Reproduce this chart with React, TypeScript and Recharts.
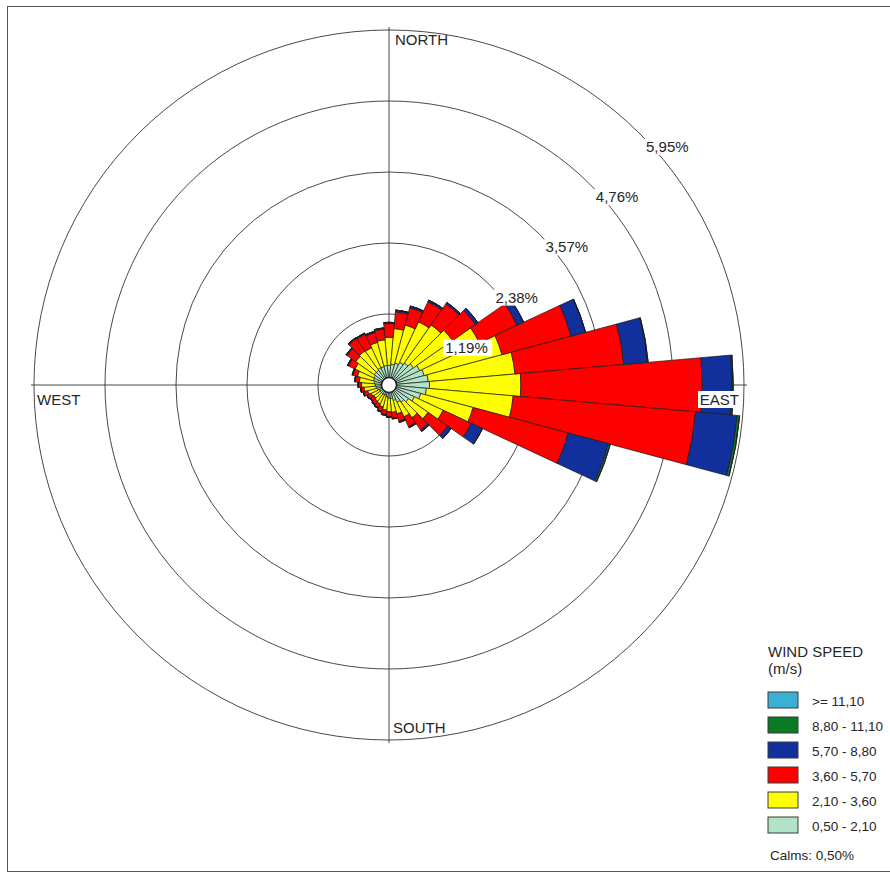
import React from 'react';
import {
  RadialBarChart,
  RadialBar,
  PolarAngleAxis,
  PolarRadiusAxis,
  PolarGrid,
  Legend,
} from 'recharts';

// Compass directions (degrees, clockwise from north)
const directions = [
  0, 10, 20, 30, 40, 50, 60, 70, 80, 90, 100, 110, 120, 130, 140, 150, 160, 170,
  180, 190, 200, 210, 220, 230, 240, 250, 260, 270, 280, 290, 300, 310, 320, 330, 340, 350,
];

// Frequency (%) per speed class, per direction
const speed050_210 = [
  0.33, 0.35, 0.38, 0.42, 0.45, 0.5, 0.57, 0.61, 0.66, 0.68, 0.63, 0.55, 0.47, 0.4, 0.35, 0.32, 0.27, 0.23,
  0.22, 0.2, 0.18, 0.18, 0.18, 0.18, 0.18, 0.2, 0.22, 0.23, 0.25, 0.27, 0.28, 0.3, 0.3, 0.32, 0.32, 0.33,
];
const speed210_360 = [
  0.47, 0.6, 0.66, 0.75, 0.78, 0.8, 1.1, 1.35, 1.46, 1.53, 1.46, 0.91, 0.53, 0.4, 0.32, 0.27, 0.23, 0.23,
  0.23, 0.22, 0.2, 0.17, 0.15, 0.13, 0.15, 0.17, 0.2, 0.23, 0.25, 0.28, 0.35, 0.38, 0.4, 0.37, 0.42, 0.43,
];
const speed360_570 = [
  0.23, 0.28, 0.3, 0.37, 0.43, 0.47, 0.7, 1.2, 1.83, 3.04, 3.07, 1.65, 0.52, 0.4, 0.25, 0.18, 0.13, 0.1,
  0.08, 0.08, 0.08, 0.07, 0.07, 0.07, 0.07, 0.07, 0.05, 0.05, 0.07, 0.08, 0.12, 0.18, 0.25, 0.25, 0.17, 0.18,
];
const speed570_880 = [
  0.02, 0.03, 0.03, 0.03, 0.03, 0.05, 0.12, 0.25, 0.4, 0.5, 0.7, 0.7, 0.2, 0.07, 0.03, 0.02, 0.02, 0.01,
  0.01, 0.01, 0.01, 0.01, 0.01, 0.01, 0.01, 0.01, 0.01, 0.01, 0.01, 0.01, 0.02, 0.02, 0.02, 0.02, 0.02, 0.02,
];
const speed880_1110 = [
  0, 0, 0, 0, 0, 0, 0, 0, 0.01, 0.02, 0.04, 0.03, 0.01, 0, 0, 0, 0, 0,
  0, 0, 0, 0, 0, 0, 0, 0, 0, 0, 0, 0, 0, 0, 0, 0, 0, 0,
];
const speedOver1110 = [
  0, 0, 0, 0, 0, 0, 0, 0, 0, 0, 0, 0, 0, 0, 0, 0, 0, 0,
  0, 0, 0, 0, 0, 0, 0, 0, 0, 0, 0, 0, 0, 0, 0, 0, 0, 0,
];

// Ring ticks and labels
const ringTicks = [1.19, 2.38, 3.57, 4.76, 5.95];
const ringLabels = ['1,19%', '2,38%', '3,57%', '4,76%', '5,95%'];
const compassDirs = [0, 90, 180, 270];
const compassLabels = ['NORTH', 'EAST', 'SOUTH', 'WEST'];

// Speed classes (stack order: inner to outer)
const classKeys = ['c1', 'c2', 'c3', 'c4', 'c5', 'c6'];
const classLabels = ['0,50 - 2,10', '2,10 - 3,60', '3,60 - 5,70', '5,70 - 8,80', '8,80 - 11,10', '>= 11,10'];
const classColors = ['#b3e3c6', '#ffff00', '#ff0000', '#12309c', '#0b7a24', '#3cb0d4'];
const legendTitle = ['WIND SPEED', '(m/s)'];
const calmsLabel = 'Calms: 0,50%';

const seriesValues = [speed050_210, speed210_360, speed360_570, speed570_880, speed880_1110, speedOver1110];

const data = directions.map((d, i) => {
  const row: any = { dir: d };
  classKeys.forEach((k, j) => {
    row[k] = seriesValues[j][i];
  });
  return row;
});

const W = 890;
const H = 877;
const CX = 389;
const CY = 385;
const R = 358;
const HOLE = 7.5;
const FONT = '"Liberation Sans", Arial, sans-serif';
const TXT = '#262626';

const RingTick = (props: any) => {
  const { x, y, payload } = props;
  const idx = ringTicks.indexOf(payload.value);
  const label = idx >= 0 ? ringLabels[idx] : String(payload.value);
  return (
    <g>
      <rect x={x + 4} y={y + 5} width={49} height={16} fill="#ffffff" />
      <text x={x + 6} y={y + 18} fill={TXT} fontSize={15} fontFamily={FONT} textAnchor="start">
        {label}
      </text>
    </g>
  );
};

const CompassTick = (props: any) => {
  const v = props.payload ? props.payload.value : null;
  const idx = compassDirs.indexOf(v);
  if (idx < 0) return <g />;
  const label = compassLabels[idx];
  const common = { fill: TXT, fontSize: 15, fontFamily: FONT };
  if (v === 0) {
    return (
      <text x={CX + 6} y={CY - R + 18} textAnchor="start" {...common}>
        {label}
      </text>
    );
  }
  if (v === 90) {
    return (
      <g>
        <rect x={CX + R - 49} y={CY + 6} width={43} height={17} fill="#ffffff" />
        <text x={CX + R - 8} y={CY + 20} textAnchor="end" {...common}>
          {label}
        </text>
      </g>
    );
  }
  if (v === 180) {
    return (
      <text x={CX + 4} y={CY + R - 10} textAnchor="start" {...common}>
        {label}
      </text>
    );
  }
  return (
    <text x={CX - R + 6} y={CY + 20} textAnchor="start" {...common}>
      {label}
    </text>
  );
};

const LegendContent = () => {
  const order = [5, 4, 3, 2, 1, 0];
  return (
    <svg width={130} height={240} style={{ display: 'block' }}>
      <text x={8} y={27} fill={TXT} fontSize={15} fontFamily={FONT}>
        {legendTitle[0]}
      </text>
      <text x={8} y={44} fill={TXT} fontSize={15} fontFamily={FONT}>
        {legendTitle[1]}
      </text>
      {order.map((ci, row) => (
        <g key={ci}>
          <rect
            x={8}
            y={62 + row * 25}
            width={30}
            height={16}
            fill={classColors[ci]}
            stroke="#3a3a3a"
            strokeWidth={1}
          />
          <text x={52} y={76 + row * 25} fill={TXT} fontSize={13.5} fontFamily={FONT}>
            {classLabels[ci]}
          </text>
        </g>
      ))}
      <text x={10} y={230} fill={TXT} fontSize={13.5} fontFamily={FONT}>
        {calmsLabel}
      </text>
    </svg>
  );
};

export default function App() {
  return (
    <div style={{ position: 'absolute', left: 0, top: 0, width: W, height: H, background: '#ffffff', overflow: 'hidden' }}>
      <div
        style={{
          position: 'absolute',
          left: 7,
          top: 6,
          width: 900,
          height: 866,
          border: '1px solid #555',
          boxSizing: 'border-box',
        }}
      />
      <div style={{ position: 'absolute', left: 0, top: 0 }}>
        <RadialBarChart
          width={W}
          height={H}
          data={data}
          cx={CX}
          cy={CY}
          innerRadius={0}
          outerRadius={R}
          startAngle={85}
          endAngle={-275}
          layout="centric"
          barCategoryGap={0}
          barGap={0}
          margin={{ top: 0, right: 0, bottom: 0, left: 0 }}
        >
          <PolarGrid gridType="circle" polarAngles={[0, 90, 180, 270]} stroke="#333333" strokeWidth={0.9} />
          {classKeys.map((k, j) => (
            <RadialBar
              key={k}
              dataKey={k}
              stackId="wind"
              fill={classColors[j]}
              stroke="#1a1a1a"
              strokeWidth={0.7}
              isAnimationActive={false}
            />
          ))}
          <PolarAngleAxis
            type="category"
            dataKey="dir"
            axisLine={false}
            tickLine={false}
            tick={CompassTick}
          />
          <PolarRadiusAxis
            type="number"
            domain={[0, 5.95]}
            ticks={ringTicks}
            angle={45}
            axisLine={false}
            tickLine={false}
            tick={RingTick}
          />
          <Legend
            content={LegendContent}
            layout="vertical"
            align="right"
            verticalAlign="bottom"
            wrapperStyle={{ position: 'absolute', left: 760, top: 630, width: 130, height: 240, bottom: 'auto', right: 'auto' }}
          />
        </RadialBarChart>
      </div>
      <svg
        width={W}
        height={H}
        style={{ position: 'absolute', left: 0, top: 0, pointerEvents: 'none' }}
      >
        <circle cx={CX} cy={CY} r={HOLE} fill="#ffffff" stroke="#222222" strokeWidth={1.6} />
      </svg>
    </div>
  );
}
